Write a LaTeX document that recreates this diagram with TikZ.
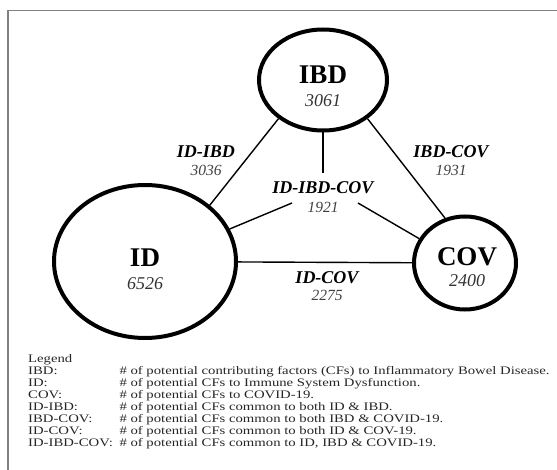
\documentclass[tikz,border=0pt]{standalone}
\usepackage{fontspec}
\setmainfont{Liberation Serif}
\newfontfamily\legfont{Liberation Serif}[FakeStretch=1.28]
\usetikzlibrary{shapes.geometric}
\begin{document}
\begin{tikzpicture}[x=1pt,y=-1pt,
  bubble/.style={draw,ellipse,line width=4pt,inner sep=0pt},
  edge/.style={line width=1.4pt},
  bigname/.style={inner sep=0pt,font=\fontsize{27}{27}\selectfont\bfseries},
  bignum/.style={inner sep=0pt,font=\fontsize{18}{18}\selectfont\itshape,text=black!80},
  ename/.style={inner sep=0pt,font=\fontsize{18}{18}\selectfont\bfseries\itshape},
  enum/.style={inner sep=0pt,font=\fontsize{15.5}{15.5}\selectfont\itshape,text=black!75},
  leg/.style={font=\legfont\fontsize{11.5}{11.5}\selectfont,anchor=base west,inner sep=0pt,text=black!85}]
\useasboundingbox (0,0) rectangle (557,470);
\clip (0,0) rectangle (557,470);
\draw[black!50,line width=1.3pt] (8,10.5) rectangle (620,520);
% bubbles
\node[bubble,minimum width=128pt,minimum height=101pt] (IBD) at (323,80) {};
\node[bubble,minimum width=182pt,minimum height=153pt] (ID) at (145,261.5) {};
\node[bubble,minimum width=102pt,minimum height=93pt] (COV) at (465,263) {};
% bubble texts
\node[bigname] (IBDt) at (323,75) {IBD};
\node[bignum] (IBDn) at (323,100.5) {3061};
\node[bigname] (IDt) at (145,258) {ID};
\node[bignum] (IDn) at (145,284) {6526};
\node[bigname] (COVt) at (467,256.5) {COV};
\node[bignum] (COVn) at (467,281) {2400};
% connectors
\coordinate (mtop) at (323,173);
\coordinate (mleft) at (292,203);
\coordinate (mright) at (358,203);
\draw[edge] (IBD.221) -- (ID.41);
\draw[edge] (IBD.319.6) -- (COV.114);
\draw[edge] (IBD.south) -- (mtop);
\draw[edge] (mleft) -- (ID.21.7);
\draw[edge] (mright) -- (COV.152);
\draw[edge] (ID) -- (COV);
% edge labels
\node[ename] (l1) at (206,152) {ID-IBD};
\node[enum] (n1) at (206,170) {3036};
\node[ename] (l2) at (451,152) {IBD-COV};
\node[enum] (n2) at (451,170) {1931};
\node[ename] (l3) at (323,188) {ID-IBD-COV};
\node[enum] (n3) at (323,207) {1921};
\node[ename] (l4) at (327,278) {ID-COV};
\node[enum] (n4) at (327,295) {2275};
% legend
\node[leg] (lg) at (28,362.3) {Legend};
\node[leg] (k1) at (28,374.4) {IBD:};
\node[leg] (v1) at (119.3,374.4) {\# of potential contributing factors (CFs) to Inflammatory Bowel Disease.};
\node[leg] (k2) at (28,386.4) {ID:};
\node[leg] (v2) at (119.3,386.4) {\# of potential CFs to Immune System Dysfunction.};
\node[leg] (k3) at (28,398.5) {COV:};
\node[leg] (v3) at (119.3,398.5) {\# of potential CFs to COVID-19.};
\node[leg] (k4) at (28,410.5) {ID-IBD:};
\node[leg] (v4) at (119.3,410.5) {\# of potential CFs common to both ID \& IBD.};
\node[leg] (k5) at (28,422.6) {IBD-COV:};
\node[leg] (v5) at (119.3,422.6) {\# of potential CFs common to both IBD \& COVID-19.};
\node[leg] (k6) at (28,434.6) {ID-COV:};
\node[leg] (v6) at (119.3,434.6) {\# of potential CFs common to both ID \& COV-19.};
\node[leg] (k7) at (28,446.7) {ID-IBD-COV:};
\node[leg] (v7) at (119.3,446.7) {\# of potential CFs common to ID, IBD \& COVID-19.};
\end{tikzpicture}
\end{document}
